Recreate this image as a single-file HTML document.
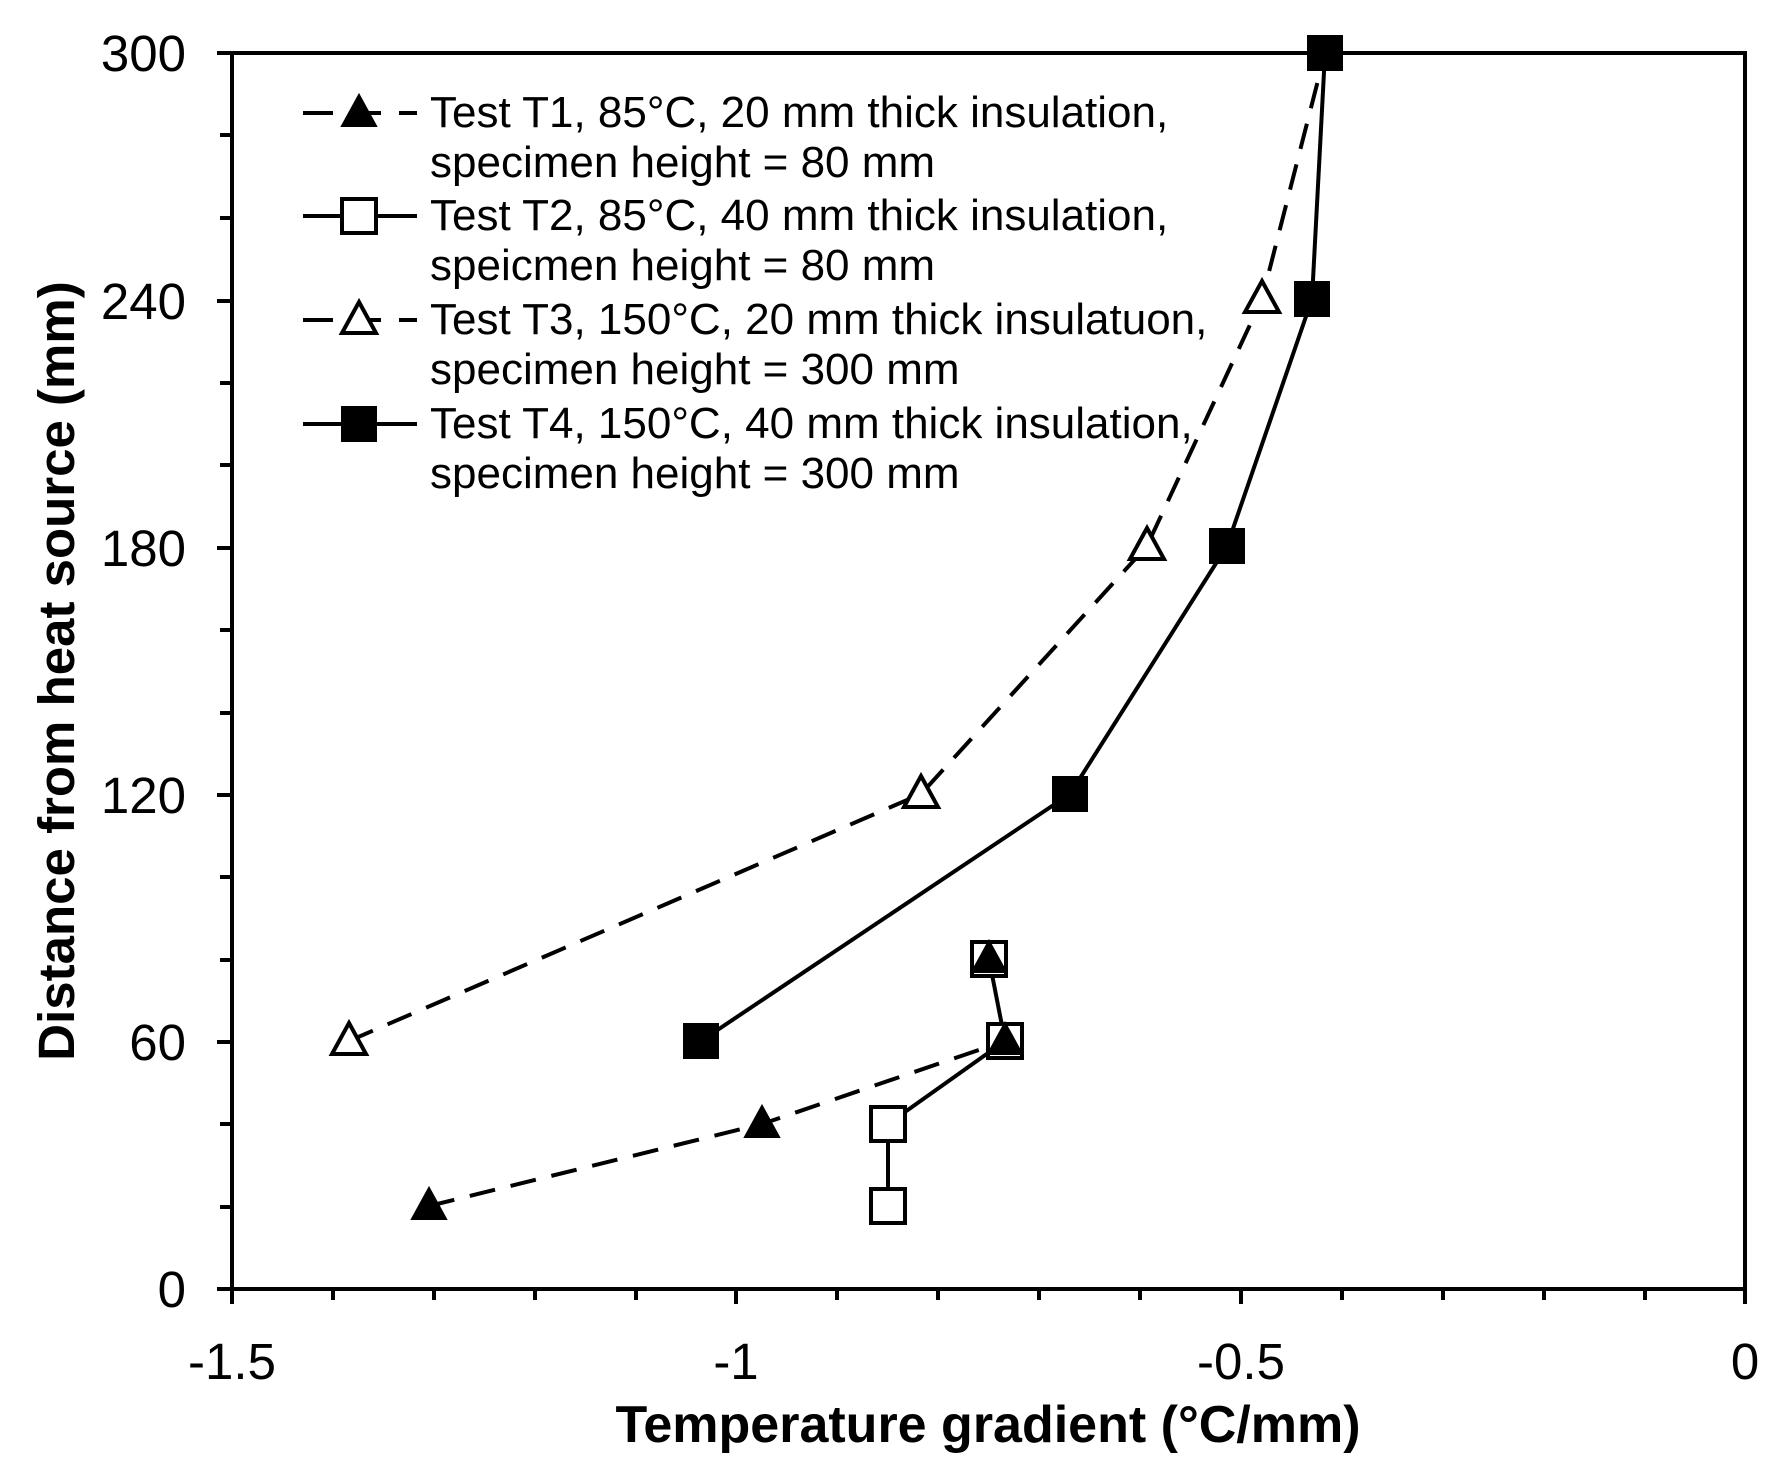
<!DOCTYPE html>
<html><head><meta charset="utf-8"><style>html,body{margin:0;padding:0;background:#fff}</style></head>
<body>
<svg width="1784" height="1465" xmlns="http://www.w3.org/2000/svg" font-family="Liberation Sans, Arial, sans-serif">
<rect width="1784" height="1465" fill="#fff"/>
<g stroke="#000" stroke-width="4" fill="none">
<rect x="232" y="53" width="1513" height="1236"/>
<path d="M217 53H232M217 301H232M217 548H232M217 795H232M217 1042H232M217 1289H232"/>
<path d="M220 135H232M220 218H232M220 383H232M220 465H232M220 630H232M220 713H232M220 877H232M220 960H232M220 1124H232M220 1207H232"/>
<path d="M232 1289V1304M736 1289V1304M1241 1289V1304M1745 1289V1304"/>
<path d="M333 1289V1300M434 1289V1300M535 1289V1300M636 1289V1300M837 1289V1300M938 1289V1300M1039 1289V1300M1140 1289V1300M1342 1289V1300M1443 1289V1300M1544 1289V1300M1645 1289V1300"/>
</g>
<g font-size="51" fill="#000" text-anchor="end">
<text x="186" y="71">300</text><text x="186" y="319">240</text><text x="186" y="566">180</text>
<text x="186" y="813">120</text><text x="186" y="1060">60</text><text x="186" y="1307">0</text>
</g>
<g font-size="51" fill="#000" text-anchor="middle">
<text x="232" y="1379">-1.5</text><text x="736" y="1379">-1</text><text x="1241" y="1379">-0.5</text><text x="1745" y="1379">0</text>
</g>
<text x="988" y="1442" font-size="52" font-weight="bold" text-anchor="middle">Temperature gradient (°C/mm)</text>
<text transform="translate(74,671) rotate(-90)" font-size="51" font-weight="bold" text-anchor="middle">Distance from heat source (mm)</text>
<g stroke="#000" stroke-width="4" fill="none">
<polyline points="349,1041 921,794 1147,546 1262,299 1325,53" stroke-dasharray="26,16"/>
<polyline points="701,1041 1070,794 1227,546 1312,299 1325,53"/>
<polyline points="429,1206 762,1124 1005,1041" stroke-dasharray="26,16"/>
<polyline points="888,1206 888,1124 1005,1041 989,959"/>
<line x1="303" y1="113" x2="417" y2="113" stroke-dasharray="30,18"/>
<line x1="303" y1="216" x2="417" y2="216"/>
<line x1="303" y1="320" x2="417" y2="320" stroke-dasharray="30,18"/>
<line x1="303" y1="424" x2="417" y2="424"/>
</g>
<defs>
<polygon id="tri" points="0,-18 17,13 -17,13"/>
<rect id="sq" x="-17" y="-17" width="34" height="34"/>
</defs>
<g fill="#fff" stroke="#000" stroke-width="4">
<use href="#tri" x="349" y="1041"/><use href="#tri" x="921" y="794"/><use href="#tri" x="1147" y="546"/><use href="#tri" x="1262" y="299"/>
<use href="#sq" x="888" y="1206"/><use href="#sq" x="888" y="1124"/><use href="#sq" x="1005" y="1041"/><use href="#sq" x="989" y="959"/>
<use href="#sq" x="359" y="216"/><use href="#tri" x="359" y="320"/>
</g>
<g fill="#000" stroke="#000" stroke-width="2">
<use href="#sq" x="701" y="1041"/><use href="#sq" x="1070" y="794"/><use href="#sq" x="1227" y="546"/><use href="#sq" x="1312" y="299"/><use href="#sq" x="1325" y="53"/>
<use href="#tri" x="429" y="1206"/><use href="#tri" x="762" y="1124"/><use href="#tri" x="1005" y="1041"/><use href="#tri" x="989" y="959"/>
<use href="#tri" x="359" y="113"/><use href="#sq" x="359" y="424"/>
</g>
<g font-size="44" fill="#000">
<text x="430" y="127">Test T1, 85°C, 20 mm thick insulation,</text>
<text x="430" y="177">specimen height = 80 mm</text>
<text x="430" y="230">Test T2, 85°C, 40 mm thick insulation,</text>
<text x="430" y="280">speicmen height = 80 mm</text>
<text x="430" y="334">Test T3, 150°C, 20 mm thick insulatuon,</text>
<text x="430" y="384">specimen height = 300 mm</text>
<text x="430" y="438">Test T4, 150°C, 40 mm thick insulation,</text>
<text x="430" y="488">specimen height = 300 mm</text>
</g>
</svg>
</body></html>
